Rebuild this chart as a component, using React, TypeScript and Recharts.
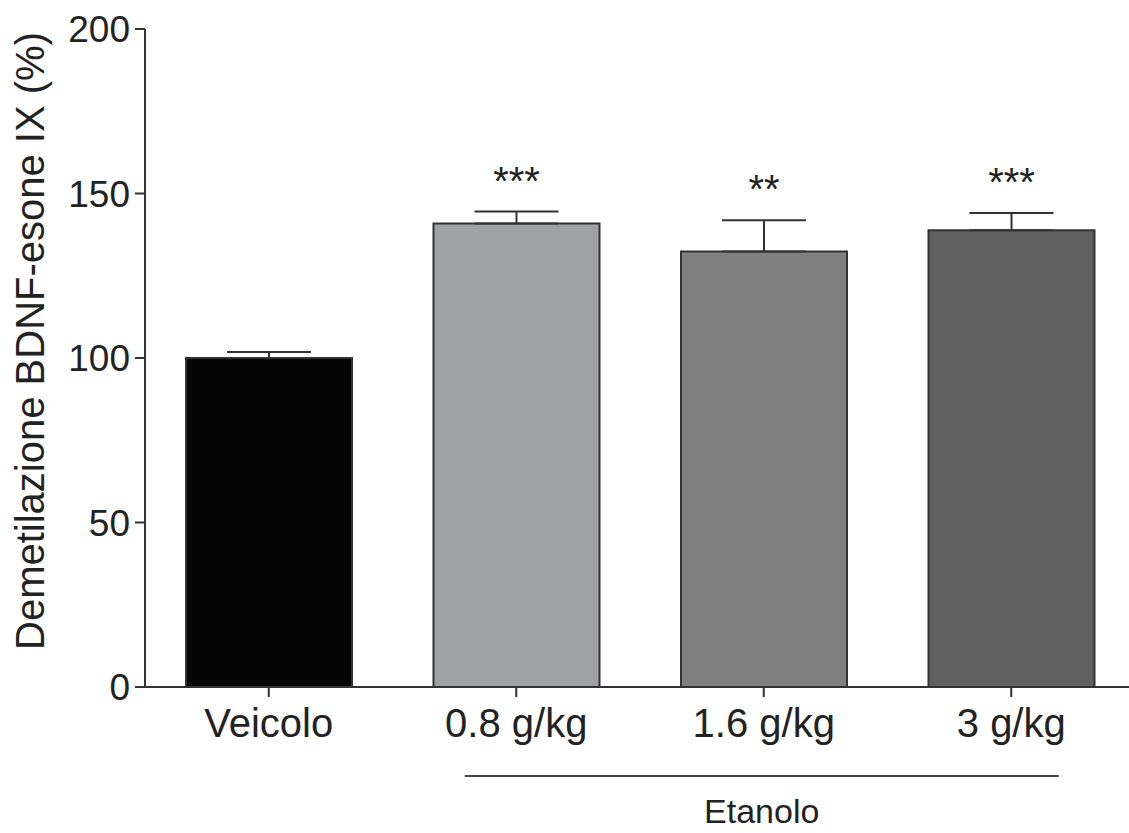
import { BarChart, Bar, XAxis, YAxis, ErrorBar, Cell, LabelList, Label } from 'recharts';

const groups = ['Veicolo', '0.8 g/kg', '1.6 g/kg', '3 g/kg'];
const means = [100, 140.9, 132.4, 138.8];
const sem = [1.8, 3.6, 9.5, 5.3];
const stars = ['', '***', '**', '***'];
const fills = ['#050505', '#a0a1a5', '#808080', '#606060'];
const yTicks = [0, 50, 100, 150, 200];

const data = groups.map((name, i) => ({
  name,
  value: means[i],
  err: [0, sem[i]],
  sig: stars[i],
}));

const font = '"Liberation Sans", Arial, sans-serif';
const ink = '#222';

const GroupTick = (props: any) => {
  const { x, y, payload, index } = props;
  return (
    <g>
      <text x={x} y={y + 38} textAnchor="middle" fontSize={40} fontFamily={font} fill={ink}>
        {payload.value}
      </text>
      {index === 2 && (
        <g>
          {/* bracket under the ethanol doses */}
          <line x1={x - 299} x2={x + 295} y1={y + 77} y2={y + 77} stroke="#444" strokeWidth={2} />
          <text x={x - 2} y={y + 124} textAnchor="middle" fontSize={34} fontFamily={font} fill={ink}>
            Etanolo
          </text>
        </g>
      )}
    </g>
  );
};

const StarLabel = (props: any) => {
  const { x, y, width, height, value, index } = props;
  if (!value) return null;
  const perUnit = height / means[index];
  const errTop = y - sem[index] * perUnit;
  return (
    <text x={x + width / 2} y={errTop - 17} textAnchor="middle" fontSize={40} fontFamily={font} fill={ink}>
      {value}
    </text>
  );
};

const YTitle = () => (
  <text
    x={30}
    y={341}
    transform="rotate(-90, 30, 341)"
    textAnchor="middle"
    dominantBaseline="central"
    fontSize={40}
    fontFamily={font}
    fill={ink}
  >
    Demetilazione BDNF-esone IX (%)
  </text>
);

export default function App() {
  return (
    <div style={{ position: 'absolute', left: 0, top: 0, width: 1129, height: 833, overflow: 'hidden', background: '#fff' }}>
      <BarChart
        width={1135}
        height={833}
        data={data}
        margin={{ top: 29, right: 0, bottom: 0, left: 0 }}
      >
        <XAxis
          dataKey="name"
          height={146}
          tickSize={10}
          tickMargin={2}
          tick={<GroupTick />}
          axisLine={{ stroke: '#333', strokeWidth: 2 }}
          tickLine={{ stroke: '#333', strokeWidth: 2 }}
          interval={0}
        />
        <YAxis
          width={145}
          domain={[0, 200]}
          ticks={yTicks}
          tickSize={10}
          tickMargin={5}
          tick={{ fontSize: 37, fontFamily: font, fill: ink }}
          axisLine={{ stroke: '#333', strokeWidth: 2 }}
          tickLine={{ stroke: '#333', strokeWidth: 2 }}
        >
          <Label content={<YTitle />} />
        </YAxis>
        <Bar dataKey="value" barSize={166} stroke="#333" strokeWidth={2} isAnimationActive={false}>
          {data.map((d, i) => (
            <Cell key={d.name} fill={fills[i]} />
          ))}
          <ErrorBar dataKey="err" direction="y" width={42} stroke="#333" strokeWidth={2} isAnimationActive={false} />
          <LabelList dataKey="sig" content={<StarLabel />} />
        </Bar>
      </BarChart>
    </div>
  );
}
